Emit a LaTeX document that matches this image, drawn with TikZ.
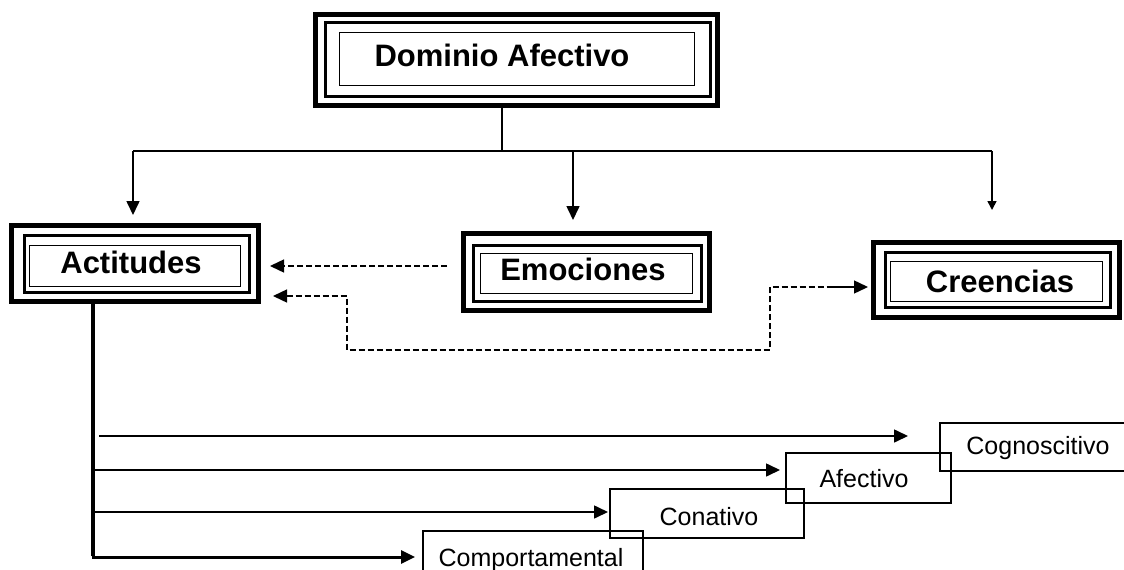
\documentclass[tikz,border=0pt]{standalone}
\usepackage{fontspec}
\setmainfont{Liberation Sans}
\usetikzlibrary{arrows.meta,calc}
\begin{document}
\begin{tikzpicture}[x=1pt,y=-1pt,
  outerf/.style={draw, line width=5pt, inner sep=0pt, minimum width=#1},
  midf/.style={draw, line width=3pt, inner sep=0pt, minimum width=#1},
  innf/.style={draw, line width=1.3pt, inner sep=0pt, minimum width=#1},
  bigtxt/.style={font=\bfseries\fontsize{31}{36}\selectfont, inner sep=0pt, anchor=base},
  smallbox/.style={draw, line width=2pt, inner sep=0pt, minimum width=#1},
  smalltxt/.style={font=\fontsize{25}{28}\selectfont, inner sep=0pt, anchor=base},
  conn/.style={line width=1.6pt},
  thick trunk/.style={line width=3.5pt},
  tipA/.style={-{Triangle[length=14pt,width=13pt]}},
  tipS/.style={-{Triangle[length=9pt,width=9pt]}},
  dsh/.style={line width=1.4pt, dash pattern=on 6pt off 3pt},
]
\useasboundingbox (0,0) rectangle (1124,570);
\clip (0,0) rectangle (1124,570);
\fill[white] (0,0) rectangle (1124,570);

% Dominio Afectivo
\node[outerf=402pt, minimum height=91pt] (dom) at (516.5,60) {};
\node[midf=385pt, minimum height=74pt] (domm) at (518,59.5) {};
\node[innf=355pt, minimum height=53pt] (domi) at (517,59) {};
\node[bigtxt] (domt) at (502,66) {Dominio Afectivo};

% Actitudes
\node[outerf=247pt, minimum height=76pt] (act) at (135,263.5) {};
\node[midf=225pt, minimum height=57pt] (actm) at (137,264) {};
\node[innf=210.6pt, minimum height=40.6pt] (acti) at (135,266) {};
\node[bigtxt] (actt) at (131,273) {Actitudes};

% Emociones
\node[outerf=246pt, minimum height=77pt] (emo) at (586.5,272) {};
\node[midf=228pt, minimum height=56pt] (emom) at (587.5,273) {};
\node[innf=211.6pt, minimum height=40pt] (emoi) at (586.5,273.5) {};
\node[bigtxt] (emot) at (583,280) {Emociones};

% Creencias
\node[outerf=246pt, minimum height=75pt] (cre) at (996.5,280) {};
\node[midf=225pt, minimum height=55pt] (crem) at (998,280) {};
\node[innf=211.6pt, minimum height=39.6pt] (crei) at (996.5,281.5) {};
\node[bigtxt] (cret) at (1000,292) {Creencias};

% small boxes
\node[smallbox=196pt, minimum height=48pt] (cog) at (1038,447) {};
\node[smalltxt] (cogt) at (1038,454) {Cognoscitivo};
\node[smallbox=165pt, minimum height=50pt] (afe) at (868.5,478) {};
\node[smalltxt] (afet) at (864,487) {Afectivo};
\node[smallbox=194pt, minimum height=49pt] (con) at (707,513.5) {};
\node[smalltxt] (cont) at (709,525) {Conativo};
\node[smallbox=220pt, minimum height=49pt] (com) at (533,555.5) {};
\node[smalltxt] (comt) at (531,566) {Comportamental};

% top tree
\coordinate (j) at (502,151);
\coordinate (jl) at (133,151);
\coordinate (jm) at (573,151);
\coordinate (jr) at (992,151);
\draw[conn] (dom.south -| j) -- (j);
\draw[conn] (jl) -- (jr);
\draw[conn,tipA,shorten >=8pt] (jl) -- (jl |- act.north);
\draw[conn,tipA,shorten >=11pt] (jm) -- (jm |- emo.north);
\draw[conn,tipS,shorten >=30pt] (jr) -- (jr |- cre.north);

% dashed relations
\coordinate (e1) at (447,266);
\draw[dsh,tipA,shorten >=9pt] (e1) -- (act.east |- e1);
\coordinate (c1) at (347,296);
\coordinate (c2) at (347,350);
\coordinate (c3) at (770,350);
\coordinate (c4) at (770,287);
\coordinate (c5) at (828,287);
\draw[dsh,{Triangle[length=14pt,width=13pt]}-{Triangle[length=14pt,width=13pt]},shorten <=12pt,shorten >=3pt]
  (act.east |- c1) -- (c1) -- (c2) -- (c3) -- (c4) -- (cre.west |- c4);
\draw[conn,shorten >=10pt] (c5) -- (cre.west |- c4);

% trunk and branches
\coordinate (tb) at (93,557);
\coordinate (b1) at (99,436);
\coordinate (b2) at (93,470);
\coordinate (b3) at (93,512);
\draw[thick trunk] (act.south -| tb) -- ([yshift=1.5pt]tb);
\draw[conn,tipA,shorten >=31pt] (b1) -- (cog.west |- b1);
\draw[conn,tipA,shorten >=5pt] (b2) -- (afe.west |- b2);
\draw[conn,tipA,shorten >=1pt] (b3) -- (con.west |- b3);
\draw[line width=3pt,tipA,shorten >=7pt] ([xshift=-1.5pt]tb) -- (com.west |- tb);
\end{tikzpicture}
\end{document}
